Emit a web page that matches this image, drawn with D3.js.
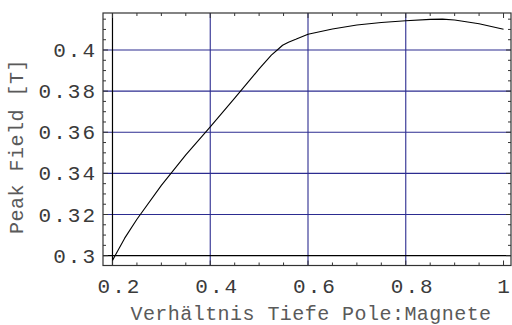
<!DOCTYPE html>
<html>
<head>
<meta charset="utf-8">
<title>Peak Field</title>
<style>
  body { margin: 0; background: #fff; }
  svg { display: block; }
</style>
</head>
<body>
<script src="https://cdn.jsdelivr.net/npm/d3@7"></script>
<script>

// ratio depth pole : magnet (x) and peak field in tesla (y)
var ratio = [0.2, 0.225, 0.25, 0.3, 0.35, 0.4, 0.45, 0.5, 0.525, 0.54, 0.548, 0.56, 0.575, 0.6, 0.65, 0.7, 0.75, 0.8, 0.85, 0.875, 0.9, 0.95, 1.0];
var peak  = [0.2977, 0.3085, 0.3177, 0.3342, 0.3490, 0.3626, 0.3766, 0.3908, 0.3975, 0.4006, 0.4023, 0.4038, 0.4052, 0.4077, 0.4102, 0.4122, 0.4134, 0.4142, 0.4149, 0.4150, 0.4146, 0.4128, 0.4101];

var xTicks = [0.2, 0.4, 0.6, 0.8, 1];
var yTicks = [0.3, 0.32, 0.34, 0.36, 0.38, 0.4];
var xLabel = "Verhältnis Tiefe Pole:Magnete";
var yLabel = "Peak Field [T]";

var W = 512, H = 325;
var frame = {left: 103, top: 13, right: 511, bottom: 265.5};

var svg = d3.select("body").append("svg")
  .attr("width", W)
  .attr("height", H);

var x = d3.scaleLinear()
  .domain([0.1806, 1.0153])
  .range([frame.left, frame.right]);

var y = d3.scaleLinear()
  .domain([0.2952, 0.418])
  .range([frame.bottom, frame.top]);

var gridColor = "#2c2c90";

// grid lines (skip the ones that sit on the axes)
svg.append("g").selectAll("line")
  .data(xTicks.filter(function(d){ return d > 0.2 && d < 1; }))
  .enter().append("line")
  .attr("x1", function(d){ return x(d); })
  .attr("x2", function(d){ return x(d); })
  .attr("y1", frame.top)
  .attr("y2", frame.bottom)
  .attr("stroke", gridColor)
  .attr("stroke-width", 1.1);

svg.append("g").selectAll("line")
  .data(yTicks.filter(function(d){ return d > 0.3; }))
  .enter().append("line")
  .attr("x1", frame.left)
  .attr("x2", frame.right)
  .attr("y1", function(d){ return y(d); })
  .attr("y2", function(d){ return y(d); })
  .attr("stroke", gridColor)
  .attr("stroke-width", 1.1);

// axes through (0.2, 0.3)
svg.append("line")
  .attr("x1", x(0.2)).attr("x2", x(0.2))
  .attr("y1", frame.top).attr("y2", frame.bottom)
  .attr("stroke", "#000").attr("stroke-width", 1.2);
svg.append("line")
  .attr("x1", frame.left).attr("x2", frame.right)
  .attr("y1", y(0.3)).attr("y2", y(0.3))
  .attr("stroke", "#000").attr("stroke-width", 1.2);

// the curve
var data = ratio.map(function(r, i){ return {r: r, b: peak[i]}; });
var line = d3.line()
  .x(function(d){ return x(d.r); })
  .y(function(d){ return y(d.b); });

svg.append("path")
  .datum(data)
  .attr("d", line)
  .attr("fill", "none")
  .attr("stroke", "#000")
  .attr("stroke-width", 1.1)
  .attr("stroke-linejoin", "round");

// frame
svg.append("rect")
  .attr("x", frame.left)
  .attr("y", frame.top)
  .attr("width", frame.right - frame.left)
  .attr("height", frame.bottom - frame.top)
  .attr("fill", "none")
  .attr("stroke", "#333")
  .attr("stroke-width", 1.2);

// frame ticks, pointing inwards
var xMinor = d3.range(0.2, 1.0001, 0.05);
var yMinor = d3.range(0.3, 0.4151, 0.005);
function isMajor(v, list){ return list.some(function(t){ return Math.abs(t - v) < 1e-6; }); }

var ticks = svg.append("g").attr("stroke", "#333").attr("stroke-width", 1);
xMinor.forEach(function(v){
  var len = isMajor(v, xTicks) ? 5 : 3;
  ticks.append("line").attr("x1", x(v)).attr("x2", x(v))
    .attr("y1", frame.bottom).attr("y2", frame.bottom - len);
  ticks.append("line").attr("x1", x(v)).attr("x2", x(v))
    .attr("y1", frame.top).attr("y2", frame.top + len);
});
yMinor.forEach(function(v){
  var len = isMajor(v, yTicks) ? 5 : 3;
  ticks.append("line").attr("y1", y(v)).attr("y2", y(v))
    .attr("x1", frame.left).attr("x2", frame.left + len);
  ticks.append("line").attr("y1", y(v)).attr("y2", y(v))
    .attr("x1", frame.right).attr("x2", frame.right - len);
});

// tick labels
var font = "'Liberation Mono', 'DejaVu Sans Mono', monospace";
var fmt = function(d){ return d3.format("")(d); };

svg.append("g").selectAll("text")
  .data(xTicks)
  .enter().append("text")
  .attr("x", function(d){ return x(d) + (fmt(d).length - 1) * 3 + 1; })
  .attr("y", 293)
  .attr("text-anchor", "middle")
  .style("font-family", font)
  .style("font-size", "21px")
  .style("letter-spacing", "2px")
  .attr("fill", "#3a3a3a")
  .text(fmt);

svg.append("g").selectAll("text")
  .data(yTicks)
  .enter().append("text")
  .attr("x", 97)
  .attr("y", function(d){ return y(d) + 7; })
  .attr("text-anchor", "end")
  .style("font-family", font)
  .style("font-size", "21px")
  .style("letter-spacing", "2px")
  .attr("fill", "#3a3a3a")
  .text(fmt);

// axis labels
svg.append("text")
  .attr("x", 311)
  .attr("y", 320)
  .attr("text-anchor", "middle")
  .style("font-family", font)
  .style("font-size", "20px")
  .style("letter-spacing", "0.45px")
  .attr("fill", "#5a5a5a")
  .text(xLabel);

svg.append("text")
  .attr("transform", "translate(23,146.5) rotate(-90)")
  .attr("text-anchor", "middle")
  .style("font-family", font)
  .style("font-size", "20px")
  .style("letter-spacing", "0.5px")
  .attr("fill", "#5a5a5a")
  .text(yLabel);

</script>
</body>
</html>
